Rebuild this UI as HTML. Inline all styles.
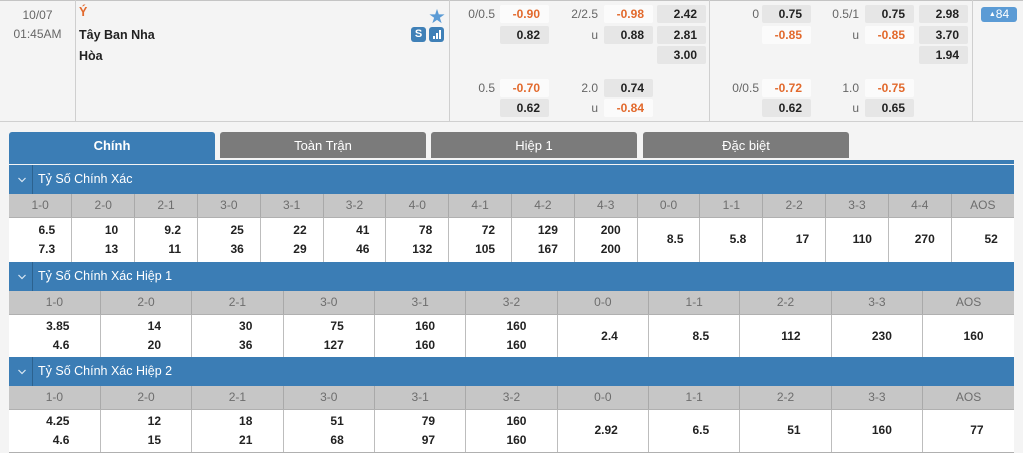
<!DOCTYPE html>
<html><head><meta charset="utf-8"><style>
*{margin:0;padding:0;box-sizing:border-box}
body{width:1023px;height:453px;overflow:hidden;background:#f4f4f4;font-family:"Liberation Sans","Noto Sans CJK SC",sans-serif;position:relative}
.a{position:absolute}
.vl{position:absolute;top:0;width:1px;height:121px;background:#cfcfcf}
.b{position:absolute;width:49px;height:18px;border-radius:2px;text-align:right;padding-right:9px;font-weight:bold;font-size:12px;line-height:18px;color:#222}
.g{background:#e6e6e6}
.o{background:#fbfbfb;color:#e2692c}
.l{position:absolute;width:60px;text-align:right;font-size:12px;line-height:18px;color:#666}
.tab{position:absolute;top:132px;width:206px;height:26px;border-radius:3px 3px 0 0;background:#7b7b7b;color:#fff;font-size:13px;line-height:27px;text-align:center}
.sec{position:absolute;left:9px;width:1005px}
.hd{height:29px;background:#3b7db5;position:relative;color:#fff;font-size:12.5px;line-height:29px}
.hd .cv{position:absolute;left:0;top:0;width:24px;height:29px;border-right:1px solid #2c628f}
.hd .t{position:absolute;left:29px;top:0}
table{width:1005px;border-collapse:collapse;table-layout:fixed}
.ch td{height:23px;background:#c6c6c6;color:#6d6d6d;font-size:12px;text-align:center;border-left:1px solid #a9a9a9;border-bottom:1px solid #b0b0b0}
.ch td:first-child,.vv td:first-child{border-left:none}
.vv td{background:#fff;text-align:center;border-left:1px solid #bdbdbd;border-bottom:1px solid #b0b0b0;font-weight:bold;font-size:12px;line-height:19px;color:#222;vertical-align:middle}
.vv td span{display:inline-block;width:30px;text-align:right}
</style></head><body>
<!-- top block -->
<div class="a" style="left:0;top:0;width:1023px;height:122px;background:#f4f4f4;border-top:1px solid #c4c4c4;border-bottom:1px solid #d0d0d0"></div>
<div class="vl" style="left:75px"></div>
<div class="vl" style="left:449px"></div>
<div class="vl" style="left:709px"></div>
<div class="vl" style="left:972px"></div>
<div class="a" style="left:0;top:6px;width:75px;text-align:center;font-size:12px;line-height:19px;color:#666">10/07<br>01:45AM</div>
<div class="a" style="left:79px;top:5px;font-size:12.5px;font-weight:bold;color:#e2692c">Ý</div>
<div class="a" style="left:79px;top:28px;font-size:12.5px;font-weight:bold;color:#222">Tây Ban Nha</div>
<div class="a" style="left:79px;top:49px;font-size:12.5px;font-weight:bold;color:#222">Hòa</div>
<div class="a" style="left:429px;top:3px;font-size:16px;color:#5b9bd5">★</div>
<div class="a" style="left:411px;top:27px;width:15px;height:15px;border-radius:3px;background:#3f80b7;color:#fff;font-weight:bold;font-size:11px;line-height:15px;text-align:center">S</div>
<div class="a" style="left:429px;top:27px;width:15px;height:15px;border-radius:3px;background:#3f80b7">
<svg width="15" height="15"><rect x="4" y="9" width="2" height="3" fill="#fff"/><rect x="7" y="6" width="2" height="6" fill="#fff"/><rect x="10" y="3" width="2" height="9" fill="#fff"/></svg></div>

<!-- group A -->
<div class="l" style="left:435px;top:5px">0/0.5</div><div class="b o" style="left:500px;top:5px">-0.90</div>
<div class="b g" style="left:500px;top:26px">0.82</div>
<div class="l" style="left:435px;top:79px">0.5</div><div class="b o" style="left:500px;top:79px">-0.70</div>
<div class="b g" style="left:500px;top:99px">0.62</div>
<!-- group B -->
<div class="l" style="left:538px;top:5px">2/2.5</div><div class="b o" style="left:604px;top:5px">-0.98</div>
<div class="l" style="left:538px;top:26px">u</div><div class="b g" style="left:604px;top:26px">0.88</div>
<div class="l" style="left:538px;top:79px">2.0</div><div class="b g" style="left:604px;top:79px">0.74</div>
<div class="l" style="left:538px;top:99px">u</div><div class="b o" style="left:604px;top:99px">-0.84</div>
<!-- group C -->
<div class="b g" style="left:657px;top:5px">2.42</div>
<div class="b g" style="left:657px;top:26px">2.81</div>
<div class="b g" style="left:657px;top:46px">3.00</div>
<!-- group D -->
<div class="l" style="left:699px;top:5px">0</div><div class="b g" style="left:762px;top:5px">0.75</div>
<div class="b o" style="left:762px;top:26px">-0.85</div>
<div class="l" style="left:699px;top:79px">0/0.5</div><div class="b o" style="left:762px;top:79px">-0.72</div>
<div class="b g" style="left:762px;top:99px">0.62</div>
<!-- group E -->
<div class="l" style="left:799px;top:5px">0.5/1</div><div class="b g" style="left:865px;top:5px">0.75</div>
<div class="l" style="left:799px;top:26px">u</div><div class="b o" style="left:865px;top:26px">-0.85</div>
<div class="l" style="left:799px;top:79px">1.0</div><div class="b o" style="left:865px;top:79px">-0.75</div>
<div class="l" style="left:799px;top:99px">u</div><div class="b g" style="left:865px;top:99px">0.65</div>
<!-- group F -->
<div class="b g" style="left:919px;top:5px">2.98</div>
<div class="b g" style="left:919px;top:26px">3.70</div>
<div class="b g" style="left:919px;top:46px">1.94</div>
<!-- badge -->
<div class="a" style="left:981px;top:7px;width:36px;height:15px;border-radius:3px;background:#5b9bd5;color:#fff;font-size:12px;line-height:15px;text-align:center"><span style="font-size:7px;vertical-align:2px">▲</span>84</div>

<!-- tabs -->
<div class="tab" style="left:9px;height:32px;background:#3b7db5;font-weight:bold;line-height:27px">Chính</div>
<div class="tab" style="left:220px">Toàn Trận</div>
<div class="tab" style="left:431px">Hiệp 1</div>
<div class="tab" style="left:643px">Đặc biệt</div>
<div class="a" style="left:9px;top:160px;width:1005px;height:4px;background:#3b7db5"></div>

<!-- section 1 -->
<div class="sec" style="top:165px">
<div class="hd"><div class="cv"><svg width="24" height="29"><polyline points="9.5,13 13,16.5 16.5,13" fill="none" stroke="#dbe8f3" stroke-width="1.2"/></svg></div><div class="t">Tỷ Số Chính Xác</div></div>
<table class="ch"><tr><td>1-0</td><td>2-0</td><td>2-1</td><td>3-0</td><td>3-1</td><td>3-2</td><td>4-0</td><td>4-1</td><td>4-2</td><td>4-3</td><td>0-0</td><td>1-1</td><td>2-2</td><td>3-3</td><td>4-4</td><td>AOS</td></tr></table>
<table class="vv"><tr style="height:45px">
<td><span>6.5<br>7.3</span></td><td><span>10<br>13</span></td><td><span>9.2<br>11</span></td><td><span>25<br>36</span></td><td><span>22<br>29</span></td><td><span>41<br>46</span></td><td><span>78<br>132</span></td><td><span>72<br>105</span></td><td><span>129<br>167</span></td><td><span>200<br>200</span></td><td><span>8.5</span></td><td><span>5.8</span></td><td><span>17</span></td><td><span>110</span></td><td><span>270</span></td><td><span>52</span></td>
</tr></table>
</div>

<!-- section 2 -->
<div class="sec" style="top:262px">
<div class="hd"><div class="cv"><svg width="24" height="29"><polyline points="9.5,13 13,16.5 16.5,13" fill="none" stroke="#dbe8f3" stroke-width="1.2"/></svg></div><div class="t">Tỷ Số Chính Xác Hiệp 1</div></div>
<table class="ch"><tr><td>1-0</td><td>2-0</td><td>2-1</td><td>3-0</td><td>3-1</td><td>3-2</td><td>0-0</td><td>1-1</td><td>2-2</td><td>3-3</td><td>AOS</td></tr></table>
<table class="vv"><tr style="height:44px">
<td><span>3.85<br>4.6</span></td><td><span>14<br>20</span></td><td><span>30<br>36</span></td><td><span>75<br>127</span></td><td><span>160<br>160</span></td><td><span>160<br>160</span></td><td><span>2.4</span></td><td><span>8.5</span></td><td><span>112</span></td><td><span>230</span></td><td><span>160</span></td>
</tr></table>
</div>

<!-- section 3 -->
<div class="sec" style="top:357px">
<div class="hd"><div class="cv"><svg width="24" height="29"><polyline points="9.5,13 13,16.5 16.5,13" fill="none" stroke="#dbe8f3" stroke-width="1.2"/></svg></div><div class="t">Tỷ Số Chính Xác Hiệp 2</div></div>
<table class="ch"><tr><td>1-0</td><td>2-0</td><td>2-1</td><td>3-0</td><td>3-1</td><td>3-2</td><td>0-0</td><td>1-1</td><td>2-2</td><td>3-3</td><td>AOS</td></tr></table>
<table class="vv"><tr style="height:43px">
<td><span>4.25<br>4.6</span></td><td><span>12<br>15</span></td><td><span>18<br>21</span></td><td><span>51<br>68</span></td><td><span>79<br>97</span></td><td><span>160<br>160</span></td><td><span>2.92</span></td><td><span>6.5</span></td><td><span>51</span></td><td><span>160</span></td><td><span>77</span></td>
</tr></table>
</div>
</body></html>
